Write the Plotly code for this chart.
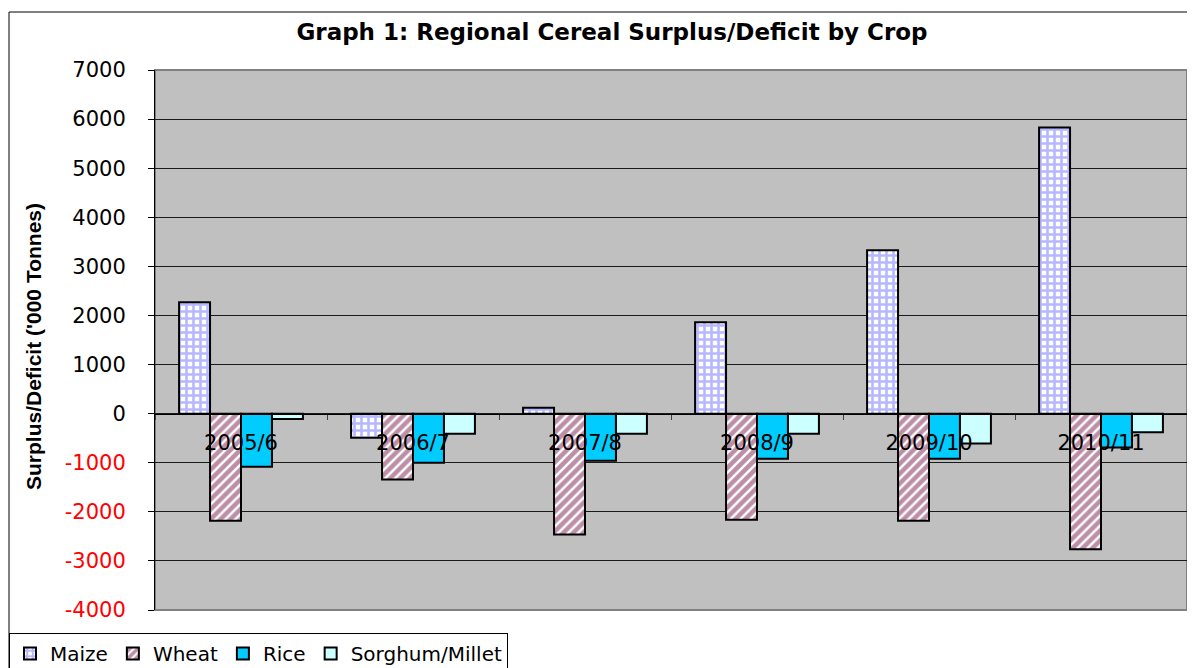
import plotly.graph_objects as go

seasons = ["2005/6", "2006/7", "2007/8", "2008/9", "2009/10", "2010/11"]
maize = [2270, -490, 120, 1860, 3330, 5830]
wheat = [-2180, -1340, -2460, -2160, -2180, -2760]
rice = [-1080, -1000, -960, -920, -920, -690]
sorghum_millet = [-110, -410, -410, -410, -610, -380]

y_ticks = [7000, 6000, 5000, 4000, 3000, 2000, 1000, 0, -1000, -2000, -3000, -4000]

FONT = "DejaVu Sans, Liberation Sans, Arial, sans-serif"
FONT_NARROW = "Liberation Sans, Arial, sans-serif"

fig = go.Figure()
fig.add_trace(go.Bar(
    name="Maize", x=seasons, y=maize,
    marker=dict(color="white", line=dict(color="black", width=2),
                pattern=dict(shape="+", fgcolor="#6F6FFF", bgcolor="white", size=7, solidity=0.6)),
))
fig.add_trace(go.Bar(
    name="Wheat", x=seasons, y=wheat,
    marker=dict(color="white", line=dict(color="black", width=2),
                pattern=dict(shape="/", fgcolor="#7A1F4E", bgcolor="white", size=7, solidity=0.65)),
))
fig.add_trace(go.Bar(
    name="Rice", x=seasons, y=rice,
    marker=dict(color="#00CCFF", line=dict(color="black", width=2)),
))
fig.add_trace(go.Bar(
    name="Sorghum/Millet", x=seasons, y=sorghum_millet,
    marker=dict(color="#CCFFFF", line=dict(color="black", width=2)),
))

ticktext = [str(v) if v >= 0 else '<span style="color:#FF0000">%d</span>' % v for v in y_ticks]

# page body has an 8px margin: figure origin sits at (8, 8) of the viewport
OFF = 8
W, H = 1195 - OFF, 668 - OFF
# plot area in reference pixels: x 155..1187, y 70..610
L, R, T, B = 155 - OFF, 1195 - 1187, 70 - OFF, 668 - 610
pw, ph = W - L - R, H - T - B

def px(xp):
    return (xp - OFF - L) / pw

def py(yp):
    return (H - B - (yp - OFF)) / ph

fig.update_layout(
    width=W, height=H,
    margin=dict(l=L, r=R, t=T, b=B, autoexpand=False),
    paper_bgcolor="white",
    plot_bgcolor="#C0C0C0",
    font=dict(family=FONT, color="black"),
    barmode="group",
    bargap=0.28,
    bargroupgap=0,
    title=dict(text="<b>Graph 1: Regional Cereal Surplus/Deficit by Crop</b>",
               x=px(612), xref="paper", xanchor="center",
               y=1 - (32 - OFF) / H, yref="container", yanchor="middle",
               font=dict(size=23, family=FONT, color="black")),
    showlegend=True,
    legend=dict(orientation="h", x=px(9), y=py(633), xanchor="left", yanchor="top",
                bordercolor="black", borderwidth=1, bgcolor="white",
                font=dict(size=20, family=FONT), traceorder="normal",
                itemwidth=30, tracegroupgap=0),
    xaxis=dict(
        anchor="free", position=4000 / 11000,
        showgrid=False, showline=True, linecolor="black", linewidth=1,
        ticks="outside", tickson="boundaries", ticklen=5, tickcolor="#404040",
        tickfont=dict(size=21, family=FONT, color="black"),
        ticklabelstandoff=10,
        zeroline=False,
    ),
    yaxis=dict(
        range=[-4000, 7000], tickvals=y_ticks, ticktext=ticktext,
        showgrid=True, gridcolor="#1a1a1a", gridwidth=1,
        zeroline=False,
        showline=True, linecolor="black", linewidth=1,
        ticks="outside", ticklen=6, tickcolor="black",
        ticklabelstandoff=18,
        tickfont=dict(size=21, family=FONT, color="black"),
    ),
    shapes=[
        dict(type="rect", xref="paper", yref="paper", x0=0, x1=1, y0=0, y1=1,
             line=dict(color="#808080", width=2), layer="below"),
        dict(type="rect", xref="paper", yref="paper", x0=px(9), x1=px(1210), y0=py(12), y1=py(690),
             line=dict(color="black", width=1), layer="below"),
    ],
    annotations=[
        dict(text="<b>Surplus/Deficit ('000 Tonnes)</b>", textangle=-90,
             xref="paper", yref="paper", x=px(33), y=py(347),
             xanchor="center", yanchor="middle", showarrow=False,
             font=dict(size=21, family=FONT_NARROW, color="black")),
    ],
)

fig.write_html("out.html")
